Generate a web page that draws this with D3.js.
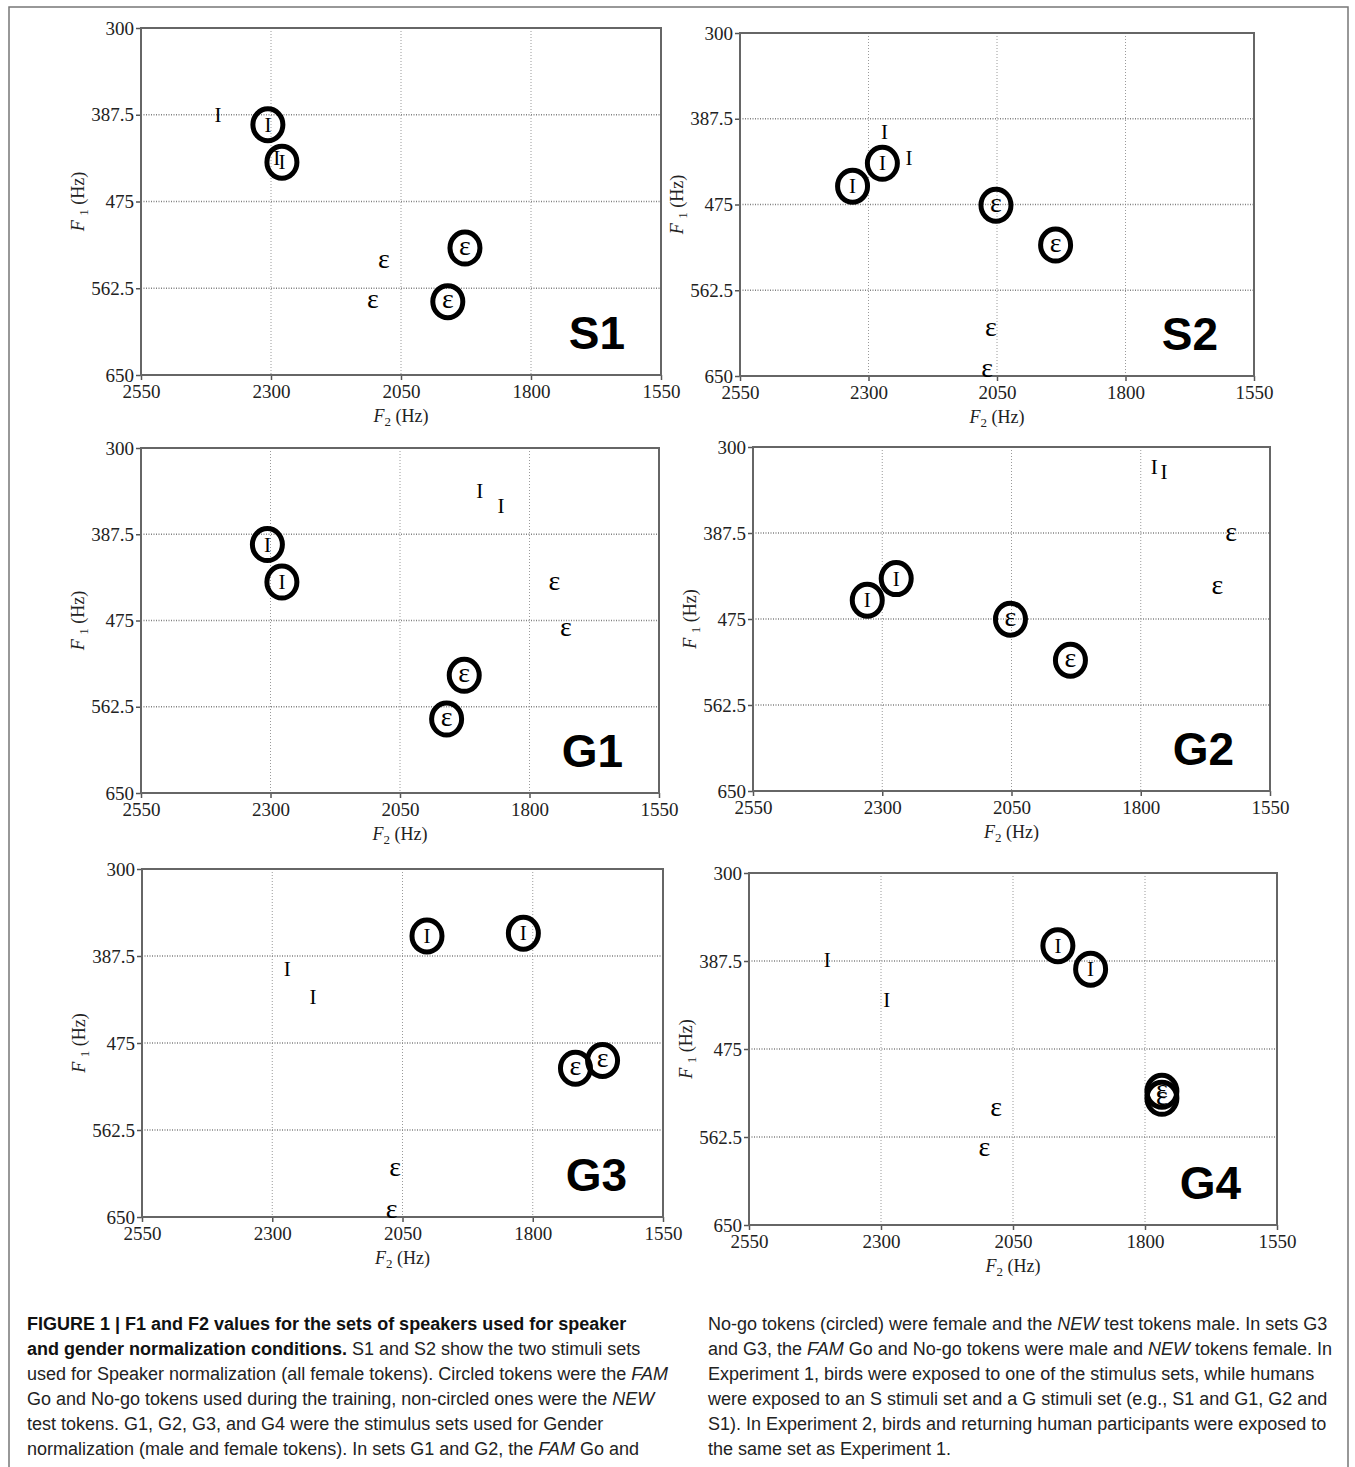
<!DOCTYPE html>
<html>
<head>
<meta charset="utf-8">
<script src="https://cdn.jsdelivr.net/npm/d3@7"></script>
<style>
  body { margin: 0; background: #fff; }
  svg { display: block; }
</style>
</head>
<body>
<svg id="fig" width="1355" height="1467"></svg>
<script>
// 軸刻度
const xTicks = [2550, 2300, 2050, 1800, 1550];
const yTicks = [300, 387.5, 475, 562.5, 650];

// 各組的 token (F2, F1)，circled = FAM 訓練用
const s1Tokens = [
  { v: 'I', f2: 2402, f1: 387.5, circled: false },
  { v: 'I', f2: 2289, f1: 431, circled: false },
  { v: 'I', f2: 2306, f1: 397.6, circled: true },
  { v: 'I', f2: 2279, f1: 435.3, circled: true },
  { v: 'ε', f2: 2083, f1: 535.6, circled: false },
  { v: 'ε', f2: 2104, f1: 576, circled: false },
  { v: 'ε', f2: 1927, f1: 522, circled: true },
  { v: 'ε', f2: 1960, f1: 576, circled: true }
];
const s2Tokens = [
  { v: 'I', f2: 2269, f1: 400.9, circled: false },
  { v: 'I', f2: 2221, f1: 428, circled: false },
  { v: 'I', f2: 2273, f1: 433, circled: true },
  { v: 'I', f2: 2331, f1: 456.3, circled: true },
  { v: 'ε', f2: 2052, f1: 475.7, circled: true },
  { v: 'ε', f2: 1936, f1: 516.4, circled: true },
  { v: 'ε', f2: 2062, f1: 602.4, circled: false },
  { v: 'ε', f2: 2069, f1: 643.9, circled: false }
];
const g1Tokens = [
  { v: 'I', f2: 1896, f1: 343.3, circled: false },
  { v: 'I', f2: 1855, f1: 359.2, circled: false },
  { v: 'I', f2: 2306, f1: 398, circled: true },
  { v: 'I', f2: 2278, f1: 436, circled: true },
  { v: 'ε', f2: 1752, f1: 437, circled: false },
  { v: 'ε', f2: 1730, f1: 484, circled: false },
  { v: 'ε', f2: 1926, f1: 530.6, circled: true },
  { v: 'ε', f2: 1960, f1: 575, circled: true }
];
const g2Tokens = [
  { v: 'I', f2: 1774, f1: 320.3, circled: false },
  { v: 'I', f2: 1755, f1: 325.4, circled: false },
  { v: 'ε', f2: 1625, f1: 388.8, circled: false },
  { v: 'ε', f2: 1652, f1: 442.3, circled: false },
  { v: 'I', f2: 2273, f1: 433.9, circled: true },
  { v: 'I', f2: 2329, f1: 455.9, circled: true },
  { v: 'ε', f2: 2052, f1: 475.2, circled: true },
  { v: 'ε', f2: 1936, f1: 516.9, circled: true }
];
const g3Tokens = [
  { v: 'I', f2: 2003, f1: 367.3, circled: true },
  { v: 'I', f2: 1818, f1: 364.6, circled: true },
  { v: 'I', f2: 2271, f1: 400.5, circled: false },
  { v: 'I', f2: 2222, f1: 428.3, circled: false },
  { v: 'ε', f2: 1718, f1: 500.3, circled: true },
  { v: 'ε', f2: 1666, f1: 492.6, circled: true },
  { v: 'ε', f2: 2064, f1: 602.4, circled: false },
  { v: 'ε', f2: 2071, f1: 644.3, circled: false }
];
const g4Tokens = [
  { v: 'I', f2: 2402, f1: 386.3, circled: false },
  { v: 'I', f2: 2289, f1: 426.7, circled: false },
  { v: 'I', f2: 1965, f1: 372.3, circled: true },
  { v: 'I', f2: 1903, f1: 395.6, circled: true },
  { v: 'ε', f2: 2082, f1: 534.9, circled: false },
  { v: 'ε', f2: 2104, f1: 574.7, circled: false },
  { v: 'ε', f2: 1768, f1: 517, circled: true },
  { v: 'ε', f2: 1768, f1: 524, circled: true }
];

// 圖說 (逐行)
const captionLeft = [
  [['b', 'FIGURE 1 | F1 and F2 values for the sets of speakers used for speaker']],
  [['b', 'and gender normalization conditions.'], ['n', ' S1 and S2 show the two stimuli sets']],
  [['n', 'used for Speaker normalization (all female tokens). Circled tokens were the '], ['i', 'FAM']],
  [['n', 'Go and No-go tokens used during the training, non-circled ones were the '], ['i', 'NEW']],
  [['n', 'test tokens. G1, G2, G3, and G4 were the stimulus sets used for Gender']],
  [['n', 'normalization (male and female tokens). In sets G1 and G2, the '], ['i', 'FAM'], ['n', ' Go and']]
];
const captionRight = [
  [['n', 'No-go tokens (circled) were female and the '], ['i', 'NEW'], ['n', ' test tokens male. In sets G3']],
  [['n', 'and G3, the '], ['i', 'FAM'], ['n', ' Go and No-go tokens were male and '], ['i', 'NEW'], ['n', ' tokens female. In']],
  [['n', 'Experiment 1, birds were exposed to one of the stimulus sets, while humans']],
  [['n', 'were exposed to an S stimuli set and a G stimuli set (e.g., S1 and G1, G2 and']],
  [['n', 'S1). In Experiment 2, birds and returning human participants were exposed to']],
  [['n', 'the same set as Experiment 1.']]
];

const panels = [
  { name: 'S1', data: s1Tokens, x: 141, y: 28, w: 520, h: 347 },
  { name: 'S2', data: s2Tokens, x: 740, y: 33, w: 514, h: 343 },
  { name: 'G1', data: g1Tokens, x: 141, y: 448, w: 518, h: 345 },
  { name: 'G2', data: g2Tokens, x: 753, y: 447, w: 517, h: 344 },
  { name: 'G3', data: g3Tokens, x: 142, y: 869, w: 521, h: 348 },
  { name: 'G4', data: g4Tokens, x: 749, y: 873, w: 528, h: 352 }
];

const svg = d3.select('#fig');
const serif = "'Liberation Serif', 'DejaVu Serif', serif";
const sans = "'Liberation Sans', Arial, sans-serif";

// 外框
svg.append('path')
  .attr('d', 'M9,1470 L9,7 L1348,7 L1348,1470')
  .attr('fill', 'none')
  .attr('stroke', '#777')
  .attr('stroke-width', 1.5);

panels.forEach(p => drawPanel(p));

function drawPanel(p) {
  const g = svg.append('g').attr('transform', `translate(${p.x},${p.y})`);
  const x = d3.scaleLinear().domain([2550, 1550]).range([0, p.w]);
  const y = d3.scaleLinear().domain([300, 650]).range([0, p.h]);

  // 格線
  g.selectAll('.vgrid')
    .data(xTicks.slice(1, -1))
    .enter().append('line')
    .attr('x1', d => x(d)).attr('x2', d => x(d))
    .attr('y1', 0).attr('y2', p.h)
    .attr('stroke', '#9a9a9a').attr('stroke-width', 1)
    .attr('stroke-dasharray', '1,2');
  g.selectAll('.hgrid')
    .data(yTicks.slice(1, -1))
    .enter().append('line')
    .attr('x1', 0).attr('x2', p.w)
    .attr('y1', d => y(d)).attr('y2', d => y(d))
    .attr('stroke', '#808080').attr('stroke-width', 1.3)
    .attr('stroke-dasharray', '1,1.5');

  // 坐標軸
  const xAxis = d3.axisBottom(x).tickValues(xTicks).tickFormat(d => d).tickSize(5).tickPadding(5);
  const yAxis = d3.axisLeft(y).tickValues(yTicks).tickFormat(d => d).tickSize(5).tickPadding(2);

  const gx = g.append('g').attr('transform', `translate(0,${p.h})`).call(xAxis);
  const gy = g.append('g').call(yAxis);
  [gx, gy].forEach(a => {
    a.select('.domain').remove();
    a.selectAll('line').attr('stroke', '#555').attr('stroke-width', 1.5);
    a.selectAll('text')
      .attr('font-family', serif)
      .attr('font-size', 19)
      .attr('fill', '#222');
  });

  // 框
  g.append('rect')
    .attr('x', 0).attr('y', 0)
    .attr('width', p.w).attr('height', p.h)
    .attr('fill', 'none')
    .attr('stroke', '#666')
    .attr('stroke-width', 2);

  // 軸標題
  const xt = g.append('text')
    .attr('x', p.w / 2).attr('y', p.h + 47)
    .attr('text-anchor', 'middle')
    .attr('font-family', serif).attr('font-size', 18).attr('fill', '#222');
  xt.append('tspan').attr('font-style', 'italic').text('F');
  xt.append('tspan').attr('font-size', 13).attr('dy', 4).text('2');
  xt.append('tspan').attr('dy', -4).text(' (Hz)');

  const yt = g.append('text')
    .attr('transform', `translate(-57,${p.h / 2}) rotate(-90)`)
    .attr('text-anchor', 'middle')
    .attr('font-family', serif).attr('font-size', 18).attr('fill', '#222');
  yt.append('tspan').attr('font-style', 'italic').text('F ');
  yt.append('tspan').attr('font-size', 13).attr('dy', 4).text('1');
  yt.append('tspan').attr('dy', -4).text(' (Hz)');

  // token
  const tokens = g.selectAll('.tok')
    .data(p.data)
    .enter().append('g')
    .attr('transform', d => `translate(${x(d.f2)},${y(d.f1)})`);

  tokens.filter(d => d.circled).append('ellipse')
    .attr('rx', 15).attr('ry', 16)
    .attr('fill', 'none')
    .attr('stroke', '#000')
    .attr('stroke-width', 5);

  tokens.append('text')
    .attr('text-anchor', 'middle')
    .attr('dy', d => d.v === 'I' ? '0.33em' : '0.24em')
    .attr('font-family', serif)
    .attr('font-size', d => d.v === 'I' ? 21 : 28)
    .attr('fill', '#000')
    .text(d => d.v);

  // 組名
  g.append('text')
    .attr('x', p.w - 36).attr('y', p.h - 26)
    .attr('text-anchor', 'end')
    .attr('font-family', sans)
    .attr('font-weight', 'bold')
    .attr('font-size', 46)
    .attr('fill', '#000')
    .text(p.name);
}

// 圖說
function drawCaption(lines, x0) {
  lines.forEach((segs, i) => {
    const t = svg.append('text')
      .attr('x', x0).attr('y', 1330 + i * 25)
      .attr('font-family', sans).attr('font-size', 18).attr('fill', '#222');
    segs.forEach(([k, s]) => {
      const ts = t.append('tspan').text(s);
      if (k === 'b') ts.attr('font-weight', 'bold').attr('fill', '#111');
      if (k === 'i') ts.attr('font-style', 'italic');
    });
  });
}
drawCaption(captionLeft, 27);
drawCaption(captionRight, 708);
</script>
</body>
</html>
